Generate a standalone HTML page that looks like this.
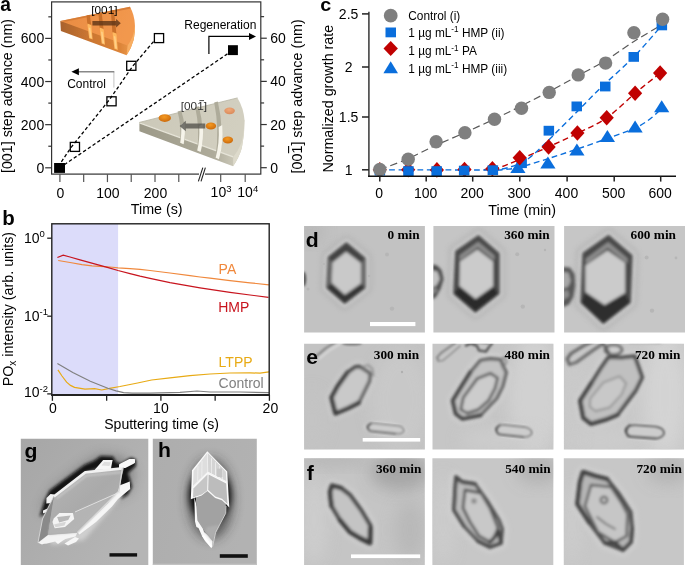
<!DOCTYPE html>
<html><head><meta charset="utf-8"><title>Figure</title>
<style>
html,body{margin:0;padding:0;background:#fff;}
body{width:685px;height:565px;overflow:hidden;font-family:"Liberation Sans", sans-serif;}
</style></head><body>
<svg width="685" height="565" viewBox="0 0 685 565" style="display:block">
<rect width="685" height="565" fill="#fff"/>
<g opacity="0.999">
<g id="pa">
<polyline points="58.2,166.5 70.8,147.8 109.6,99.5 132.6,66.3 153.5,41.6" fill="none" stroke="#000" stroke-width="1.3" stroke-dasharray="3.4 2.3"/>
<line x1="59.6" y1="167.9" x2="232.9" y2="50.2" stroke="#000" stroke-width="1.3" stroke-dasharray="3.4 2.3"/>
<rect x="51.6" y="1.9" width="209.20000000000002" height="172.2" fill="none" stroke="#333" stroke-width="1.2"/>
<line x1="45.2" y1="167.8" x2="51.6" y2="167.8" stroke="#333" stroke-width="1.2" />
<text x="44.2" y="172.9" font-size="14" text-anchor="end" font-weight="normal" fill="#000" font-family='"Liberation Sans", sans-serif' >0</text>
<line x1="45.2" y1="124.66600000000001" x2="51.6" y2="124.66600000000001" stroke="#333" stroke-width="1.2" />
<text x="44.2" y="129.76600000000002" font-size="14" text-anchor="end" font-weight="normal" fill="#000" font-family='"Liberation Sans", sans-serif' >200</text>
<line x1="45.2" y1="81.53200000000001" x2="51.6" y2="81.53200000000001" stroke="#333" stroke-width="1.2" />
<text x="44.2" y="86.632" font-size="14" text-anchor="end" font-weight="normal" fill="#000" font-family='"Liberation Sans", sans-serif' >400</text>
<line x1="45.2" y1="38.398000000000025" x2="51.6" y2="38.398000000000025" stroke="#333" stroke-width="1.2" />
<text x="44.2" y="43.498000000000026" font-size="14" text-anchor="end" font-weight="normal" fill="#000" font-family='"Liberation Sans", sans-serif' >600</text>
<line x1="48.300000000000004" y1="146.233" x2="51.6" y2="146.233" stroke="#333" stroke-width="1.2" />
<line x1="48.300000000000004" y1="103.09900000000002" x2="51.6" y2="103.09900000000002" stroke="#333" stroke-width="1.2" />
<line x1="48.300000000000004" y1="59.96500000000002" x2="51.6" y2="59.96500000000002" stroke="#333" stroke-width="1.2" />
<line x1="48.300000000000004" y1="16.831000000000017" x2="51.6" y2="16.831000000000017" stroke="#333" stroke-width="1.2" />
<line x1="260.8" y1="167.7" x2="266.8" y2="167.7" stroke="#333" stroke-width="1.2" />
<text x="270.3" y="172.79999999999998" font-size="14" text-anchor="start" font-weight="normal" fill="#000" font-family='"Liberation Sans", sans-serif' >0</text>
<line x1="260.8" y1="124.53999999999999" x2="266.8" y2="124.53999999999999" stroke="#333" stroke-width="1.2" />
<text x="270.3" y="129.64" font-size="14" text-anchor="start" font-weight="normal" fill="#000" font-family='"Liberation Sans", sans-serif' >20</text>
<line x1="260.8" y1="81.38" x2="266.8" y2="81.38" stroke="#333" stroke-width="1.2" />
<text x="270.3" y="86.47999999999999" font-size="14" text-anchor="start" font-weight="normal" fill="#000" font-family='"Liberation Sans", sans-serif' >40</text>
<line x1="260.8" y1="38.22" x2="266.8" y2="38.22" stroke="#333" stroke-width="1.2" />
<text x="270.3" y="43.32" font-size="14" text-anchor="start" font-weight="normal" fill="#000" font-family='"Liberation Sans", sans-serif' >60</text>
<line x1="260.8" y1="146.12" x2="264.1" y2="146.12" stroke="#333" stroke-width="1.2" />
<line x1="260.8" y1="102.96" x2="264.1" y2="102.96" stroke="#333" stroke-width="1.2" />
<line x1="260.8" y1="59.8" x2="264.1" y2="59.8" stroke="#333" stroke-width="1.2" />
<line x1="260.8" y1="16.639999999999986" x2="264.1" y2="16.639999999999986" stroke="#333" stroke-width="1.2" />
<line x1="59.9" y1="174.1" x2="59.9" y2="182.1" stroke="#555" stroke-width="1.2" />
<text x="60.4" y="197.8" font-size="14" text-anchor="middle" font-weight="normal" fill="#000" font-family='"Liberation Sans", sans-serif' >0</text>
<line x1="107.44999999999999" y1="174.1" x2="107.44999999999999" y2="182.1" stroke="#555" stroke-width="1.2" />
<text x="107.94999999999999" y="197.8" font-size="14" text-anchor="middle" font-weight="normal" fill="#000" font-family='"Liberation Sans", sans-serif' >100</text>
<line x1="155.0" y1="174.1" x2="155.0" y2="182.1" stroke="#555" stroke-width="1.2" />
<text x="155.5" y="197.8" font-size="14" text-anchor="middle" font-weight="normal" fill="#000" font-family='"Liberation Sans", sans-serif' >200</text>
<line x1="83.675" y1="174.1" x2="83.675" y2="182.1" stroke="#555" stroke-width="1.2" />
<line x1="131.225" y1="174.1" x2="131.225" y2="182.1" stroke="#555" stroke-width="1.2" />
<line x1="178.775" y1="174.1" x2="178.775" y2="182.1" stroke="#555" stroke-width="1.2" />
<line x1="220.7" y1="174.1" x2="220.7" y2="182.1" stroke="#555" stroke-width="1.2" />
<line x1="245.2" y1="174.1" x2="245.2" y2="182.1" stroke="#555" stroke-width="1.2" />
<rect x="199" y="172" width="6" height="4" fill="#fff"/>
<line x1="198.4" y1="181.4" x2="202.8" y2="167.6" stroke="#222" stroke-width="1.1" />
<line x1="201.0" y1="181.4" x2="205.4" y2="167.6" stroke="#222" stroke-width="1.1" />
<text x="210.6" y="197.4" font-size="14" text-anchor="start" font-weight="normal" fill="#000" font-family='"Liberation Sans", sans-serif' >10<tspan font-size="9.5" dy="-5.2">3</tspan></text>
<text x="237.3" y="197.4" font-size="14" text-anchor="start" font-weight="normal" fill="#000" font-family='"Liberation Sans", sans-serif' >10<tspan font-size="9.5" dy="-5.2">4</tspan></text>
<text x="156.7" y="213.9" font-size="14.3" text-anchor="middle" font-weight="normal" fill="#000" font-family='"Liberation Sans", sans-serif' >Time (s)</text>
<text transform="translate(12.3,96) rotate(-90)" font-size="14.3" text-anchor="middle" font-family='"Liberation Sans", sans-serif'>[001] step advance (nm)</text>
<text transform="translate(302.2,173.4) rotate(-90)" font-size="14.3" text-anchor="start" font-family='"Liberation Sans", sans-serif'>[001] step advance (nm)</text>
<line x1="288.6" y1="145.9" x2="288.6" y2="153.2" stroke="#000" stroke-width="1.1" />
<rect x="70.30000000000001" y="142.4" width="9.2" height="9.0" fill="none" stroke="#000" stroke-width="1.3"/>
<rect x="106.9" y="96.8" width="9.2" height="9.0" fill="none" stroke="#000" stroke-width="1.3"/>
<rect x="126.70000000000002" y="61.3" width="9.2" height="9.0" fill="none" stroke="#000" stroke-width="1.3"/>
<rect x="154.4" y="33.6" width="9.2" height="9.0" fill="none" stroke="#000" stroke-width="1.3"/>
<rect x="54.1" y="163" width="10.9" height="9.9" fill="#000"/>
<rect x="228" y="45.2" width="9.9" height="9.9" fill="#000"/>
<line x1="113.9" y1="87.6" x2="113.9" y2="71.8" stroke="#bbb" stroke-width="0.9"/>
<line x1="114.3" y1="71.8" x2="78" y2="71.8" stroke="#888" stroke-width="1.4"/>
<polygon points="71.4,71.8 78.9,68.3 78.9,75.3" fill="#000"/>
<text x="67.2" y="87.9" font-size="12" text-anchor="start" font-weight="normal" fill="#000" font-family='"Liberation Sans", sans-serif' >Control</text>
<polyline points="208.9,54 208.9,36.4 250,36.4" fill="none" stroke="#000" stroke-width="1.2"/>
<polygon points="256,36.4 249,32.9 249,39.9" fill="#000"/>
<text x="184.3" y="29.3" font-size="12" text-anchor="start" font-weight="normal" fill="#000" font-family='"Liberation Sans", sans-serif' >Regeneration</text>
<defs>
<linearGradient id="og1" x1="0" y1="0" x2="1" y2="0.25"><stop offset="0" stop-color="#e88a40"/><stop offset="0.5" stop-color="#ee9248"/><stop offset="1" stop-color="#f2984e"/></linearGradient>
<linearGradient id="og2" x1="0" y1="0" x2="1" y2="0"><stop offset="0" stop-color="#a8622e"/><stop offset="0.35" stop-color="#c87430"/><stop offset="0.8" stop-color="#dc8438"/><stop offset="1" stop-color="#f0a052"/></linearGradient>
<linearGradient id="gg1" x1="0" y1="0" x2="1" y2="0.2"><stop offset="0" stop-color="#cbc8b8"/><stop offset="1" stop-color="#d2cfc0"/></linearGradient>
<linearGradient id="gg2" x1="0" y1="0" x2="1" y2="0"><stop offset="0" stop-color="#9c9988"/><stop offset="0.7" stop-color="#aeab9a"/><stop offset="1" stop-color="#d8d5c6"/></linearGradient>
<radialGradient id="blob" cx="0.45" cy="0.35" r="0.7"><stop offset="0" stop-color="#f59a22"/><stop offset="1" stop-color="#c8660a"/></radialGradient>
<radialGradient id="blob2" cx="0.45" cy="0.35" r="0.7"><stop offset="0" stop-color="#f0a878"/><stop offset="1" stop-color="#d88858"/></radialGradient>
<filter id="bw" x="-10%" y="-10%" width="120%" height="120%"><feGaussianBlur stdDeviation="0.45"/></filter>
</defs>
<g filter="url(#bw)">
<path d="M60.3,21 L60.9,30.9 L126.6,55.2 Q131.5,48 133.8,39.4 Q135.2,32 134.9,25 L129,30 Z" fill="url(#og2)"/>
<path d="M60.3,21 L129.9,6.8 Q134.6,15 134.9,25 Q134.4,31.5 132.6,36.5 Q130.4,41.8 127.6,45.4 Z" fill="url(#og1)"/>
<path d="M60.3,21 L129.9,6.8 L130.8,8.6 L66,21.6 Z" fill="#cf7630" opacity="0.75"/>
<path d="M86.6,15.399999999999999 L89.8,14.7 L91.32968749999999,26.0 L87.32968749999999,24.5 Z" fill="#c96f2a"/>
<path d="M87.32968749999999,23.5 L91.32968749999999,25.0 L92.6,39.400000000000006 L89.19999999999999,38.2 Z" fill="#ffb960"/>
<path d="M88.7296875,27.5 L90.32968749999999,28.0 L91.8,38.2 L90.0,37.6 Z" fill="#ffd088"/>
<path d="M98.4,12.8 L101.60000000000001,12.1 L103.63154761904762,30.0 L99.63154761904762,28.5 Z" fill="#c96f2a"/>
<path d="M99.63154761904762,27.5 L103.63154761904762,29.0 L105.0,44.800000000000004 L101.6,43.6 Z" fill="#ffb960"/>
<path d="M101.03154761904763,31.5 L102.63154761904762,32.0 L104.2,43.6 L102.4,43.0 Z" fill="#ffd088"/>
<path d="M110.8,10.6 L114.0,9.9 L116.44390243902438,34.5 L112.44390243902438,33.0 Z" fill="#c96f2a"/>
<path d="M112.44390243902438,32.0 L116.44390243902438,33.5 L117.8,50.0 L114.39999999999999,48.8 Z" fill="#ffb960"/>
<path d="M113.84390243902439,36.0 L115.44390243902438,36.5 L117.0,48.8 L115.2,48.199999999999996 Z" fill="#ffd088"/>
<path d="M134.9,25 Q134.4,31.5 132.6,36.5 Q130.4,41.8 127.6,45.4 L126.6,55.2 Q131.5,48 133.8,39.4 Q135.2,32 134.9,25 Z" fill="#f8ae62"/>
</g>
<path d="M92.4,21 L116.1,21 L116.1,19 L120.8,23.3 L116.1,27.6 L116.1,25.6 L92.4,25.6 Z" fill="#5e3516" opacity="0.8"/>
<text x="104.4" y="13.6" font-size="11.8" text-anchor="middle" font-weight="normal" fill="#000" font-family='"Liberation Sans", sans-serif' >[001]</text>
<g filter="url(#bw)">
<path d="M139.4,122.4 L139.4,131.2 L233.1,166.2 Q239.5,157 241.9,147.8 Q244.8,134 244.5,119.8 L238,126 Z" fill="url(#gg2)"/>
<path d="M139.4,122.4 L237.5,97.9 Q243.6,108 244.5,119.8 Q244.3,133 241.4,143 Q237.8,151.5 233.2,156.8 Z" fill="url(#gg1)"/>
<path d="M139.4,122.8 L233.2,156.8" stroke="#e6e4d8" stroke-width="1.4" fill="none"/>
<path d="M139.4,122.4 L237.5,97.9" stroke="#b4b1a0" stroke-width="1" fill="none" opacity="0.8"/>
<path d="M177.6,111.6 Q181.8,127.2 180.0,142.8 L184.2,144.4 Q186.6,127.2 181.2,110.6 Z" fill="#aeab9a"/>
<path d="M181.26000000000002,124.2 Q181.60000000000002,135.0 180.2,142.8 L183.6,144.20000000000002 Q185.6,135.0 184.76,122.2 Z" fill="#f6f4ea"/>
<path d="M195.2,107.2 Q200.1,128.9 197.0,150.6 L201.2,152.2 Q204.89999999999998,128.9 198.79999999999998,106.2 Z" fill="#aeab9a"/>
<path d="M199.28,125.9 Q199.9,139.75 197.2,150.6 L200.6,152.0 Q203.89999999999998,139.75 202.77999999999997,123.9 Z" fill="#f6f4ea"/>
<path d="M214.2,102.4 Q219.8,130.10000000000002 215.4,157.8 L219.6,159.4 Q224.6,130.10000000000002 217.79999999999998,101.4 Z" fill="#aeab9a"/>
<path d="M218.70000000000002,127.10000000000002 Q219.60000000000002,143.95000000000002 215.6,157.8 L219.0,159.20000000000002 Q223.6,143.95000000000002 222.2,125.10000000000002 Z" fill="#f6f4ea"/>
<path d="M244.5,119.8 Q244.3,133 241.4,143 Q237.8,151.5 233.2,156.8 L233.1,166.2 Q239.5,157 241.9,147.8 Q244.8,134 244.5,119.8 Z" fill="#dddacb"/>
<ellipse cx="164.8" cy="118.1" rx="6.2" ry="3.9" fill="url(#blob)"/>
<ellipse cx="210.9" cy="126" rx="5.3" ry="3.5" fill="url(#blob)"/>
<ellipse cx="229.6" cy="110.8" rx="5.3" ry="3.4" fill="url(#blob2)"/>
<ellipse cx="227.9" cy="140" rx="5.2" ry="3.4" fill="url(#blob)"/>
</g>
<path d="M205.2,123.4 L185.8,123.4 L185.8,120.8 L179.6,126 L185.8,131.2 L185.8,128.6 L205.2,128.6 Z" fill="#55544e" opacity="0.8"/>
<text x="193.9" y="109.5" font-size="11.8" text-anchor="middle" font-weight="normal" fill="#333" font-family='"Liberation Sans", sans-serif' >[001]</text>
<line x1="199.4" y1="100.6" x2="204" y2="100.6" stroke="#333" stroke-width="0.9" />
</g>
<g id="pc">
<path d="M497.0,170.1 C498.3,170.0 501.2,169.9 505.0,169.4 C508.8,168.9 512.2,169.1 519.5,167.3 C526.8,165.5 538.9,161.6 548.6,158.5 C558.3,155.4 568.0,152.1 577.8,148.8 C587.6,145.5 597.8,142.0 607.4,138.5 C617.0,135.0 628.0,131.2 635.1,128.0 C642.2,124.8 645.6,122.2 650.0,119.0 C654.4,115.8 659.8,110.2 661.7,108.5" fill="none" stroke="#0a6edc" stroke-width="1.4" stroke-dasharray="5.8 3.6"/>
<path d="M484.0,169.7 C485.3,169.5 489.3,169.0 492.0,168.6 C494.7,168.2 495.4,168.8 500.0,167.3 C504.6,165.8 511.4,162.9 519.5,159.5 C527.6,156.1 538.9,151.2 548.6,146.8 C558.3,142.4 568.1,138.0 577.8,133.2 C587.5,128.4 597.2,124.4 606.7,117.8 C616.2,111.2 626.2,100.8 635.1,93.3 C644.0,85.8 655.9,76.5 660.1,73.1" fill="none" stroke="#c00000" stroke-width="1.4" stroke-dasharray="5.8 3.6"/>
<path d="M379.8,169.9 C389.8,169.9 421.3,169.9 440.0,169.9 C458.7,169.9 481.7,170.1 492.0,169.9 C502.3,169.8 498.8,169.5 502.0,169.0 C505.2,168.5 508.1,167.7 511.0,166.8 C513.9,165.9 516.5,165.0 519.5,163.5 C522.5,162.0 525.8,160.5 529.2,158.0 C532.6,155.5 535.5,152.8 540.0,148.5 C544.5,144.2 550.1,138.6 556.4,132.3 C562.7,126.0 570.5,118.2 577.8,110.9 C585.1,103.6 590.7,97.5 600.0,88.5 C609.3,79.5 623.4,67.4 633.7,56.9 C644.0,46.4 657.2,30.6 661.9,25.4" fill="none" stroke="#0a6edc" stroke-width="1.4" stroke-dasharray="5.8 3.6"/>
<path d="M379.8,169.6 C384.5,167.8 398.8,162.7 408.2,158.6 C417.6,154.5 426.7,149.5 436.1,145.2 C445.6,140.9 455.2,137.0 464.9,132.6 C474.6,128.2 485.1,123.5 494.5,119.0 C503.9,114.5 512.3,110.4 521.4,105.8 C530.5,101.2 539.7,96.5 549.2,91.5 C558.7,86.5 568.8,80.8 578.2,75.6 C587.6,70.4 596.3,66.2 605.6,60.5 C614.9,54.8 624.8,47.3 633.9,41.5 C643.0,35.7 656.1,28.2 660.5,25.5" fill="none" stroke="#595959" stroke-width="1.2" stroke-dasharray="7.3 4"/>
<rect x="516.4" y="158.3" width="10.5" height="9.8" fill="#0a6edc"/>
<polygon points="517.9,160.9 525.5,172.9 510.3,172.9" fill="#0a6edc"/>
<polygon points="547.9,156.5 555.5,168.5 540.3,168.5" fill="#0a6edc"/>
<polygon points="576.9,143.5 584.5,155.5 569.3,155.5" fill="#0a6edc"/>
<polygon points="607.4,130.1 615.0,142.1 599.8,142.1" fill="#0a6edc"/>
<polygon points="635.1,120.4 642.7,132.4 627.5,132.4" fill="#0a6edc"/>
<polygon points="661.7,100.3 669.3,112.3 654.1,112.3" fill="#0a6edc"/>
<polygon points="379.8,162.0 386.9,169.8 379.8,177.6 372.7,169.8" fill="#c00000"/>
<polygon points="408.2,161.9 415.3,169.7 408.2,177.5 401.1,169.7" fill="#c00000"/>
<polygon points="436.9,162.1 444.0,169.9 436.9,177.7 429.8,169.9" fill="#c00000"/>
<polygon points="464.5,161.7 471.6,169.5 464.5,177.3 457.4,169.5" fill="#c00000"/>
<polygon points="492.4,161.0 499.5,168.8 492.4,176.6 485.3,168.8" fill="#c00000"/>
<polygon points="519.7,149.9 526.8,157.7 519.7,165.5 512.6,157.7" fill="#c00000"/>
<polygon points="548.6,139.1 555.7,146.9 548.6,154.7 541.5,146.9" fill="#c00000"/>
<polygon points="577.4,125.2 584.5,133.0 577.4,140.8 570.3,133.0" fill="#c00000"/>
<polygon points="606.7,110.0 613.8,117.8 606.7,125.6 599.6,117.8" fill="#c00000"/>
<polygon points="635.1,85.5 642.2,93.3 635.1,101.1 628.0,93.3" fill="#c00000"/>
<polygon points="660.1,65.3 667.2,73.1 660.1,80.9 653.0,73.1" fill="#c00000"/>
<rect x="374.6" y="165.7" width="10.5" height="9.8" fill="#0a6edc"/>
<rect x="403.2" y="166.2" width="10.5" height="9.8" fill="#0a6edc"/>
<rect x="431.4" y="166.2" width="10.5" height="9.8" fill="#0a6edc"/>
<rect x="458.9" y="165.7" width="10.5" height="9.8" fill="#0a6edc"/>
<rect x="487.6" y="165.3" width="10.5" height="9.8" fill="#0a6edc"/>
<rect x="543.6" y="125.8" width="10.5" height="9.8" fill="#0a6edc"/>
<rect x="571.5" y="101.5" width="10.5" height="9.8" fill="#0a6edc"/>
<rect x="600.0" y="81.6" width="10.5" height="9.8" fill="#0a6edc"/>
<rect x="628.5" y="52.0" width="10.5" height="9.8" fill="#0a6edc"/>
<rect x="656.6" y="20.5" width="10.5" height="9.8" fill="#0a6edc"/>
<circle cx="379.8" cy="169.4" r="6.7" fill="#7f7f7f"/>
<circle cx="408.2" cy="159.3" r="6.7" fill="#7f7f7f"/>
<circle cx="436.1" cy="141.8" r="6.7" fill="#7f7f7f"/>
<circle cx="464.9" cy="132.8" r="6.7" fill="#7f7f7f"/>
<circle cx="494.5" cy="119.3" r="6.7" fill="#7f7f7f"/>
<circle cx="521.5" cy="108.3" r="6.7" fill="#7f7f7f"/>
<circle cx="549.2" cy="92.4" r="6.7" fill="#7f7f7f"/>
<circle cx="578.2" cy="74.9" r="6.7" fill="#7f7f7f"/>
<circle cx="605.6" cy="63.1" r="6.7" fill="#7f7f7f"/>
<circle cx="633.9" cy="32.8" r="6.7" fill="#7f7f7f"/>
<circle cx="662.6" cy="19.3" r="6.7" fill="#7f7f7f"/>
<line x1="368.9" y1="11.7" x2="368.9" y2="177" stroke="#444" stroke-width="1.6"/>
<line x1="368.1" y1="176.3" x2="676" y2="176.3" stroke="#111" stroke-width="1.5"/>
<line x1="362" y1="169.8" x2="368.9" y2="169.8" stroke="#222" stroke-width="1.5" />
<text x="348.6" y="174.70000000000002" font-size="14" text-anchor="middle" font-weight="normal" fill="#000" font-family='"Liberation Sans", sans-serif' >1</text>
<line x1="362" y1="117.0" x2="368.9" y2="117.0" stroke="#222" stroke-width="1.5" />
<text x="348.6" y="121.9" font-size="14" text-anchor="middle" font-weight="normal" fill="#000" font-family='"Liberation Sans", sans-serif' >1.5</text>
<line x1="362" y1="67.0" x2="368.9" y2="67.0" stroke="#222" stroke-width="1.5" />
<text x="348.6" y="71.9" font-size="14" text-anchor="middle" font-weight="normal" fill="#000" font-family='"Liberation Sans", sans-serif' >2</text>
<line x1="362" y1="13.9" x2="368.9" y2="13.9" stroke="#222" stroke-width="1.5" />
<text x="348.6" y="18.8" font-size="14" text-anchor="middle" font-weight="normal" fill="#000" font-family='"Liberation Sans", sans-serif' >2.5</text>
<line x1="379.8" y1="176.3" x2="379.8" y2="181.6" stroke="#222" stroke-width="1.5" />
<text x="379.2" y="197.6" font-size="14" text-anchor="middle" font-weight="normal" fill="#000" font-family='"Liberation Sans", sans-serif' >0</text>
<line x1="426.2" y1="176.3" x2="426.2" y2="181.6" stroke="#222" stroke-width="1.5" />
<text x="425.59999999999997" y="197.6" font-size="14" text-anchor="middle" font-weight="normal" fill="#000" font-family='"Liberation Sans", sans-serif' >100</text>
<line x1="472.7" y1="176.3" x2="472.7" y2="181.6" stroke="#222" stroke-width="1.5" />
<text x="472.09999999999997" y="197.6" font-size="14" text-anchor="middle" font-weight="normal" fill="#000" font-family='"Liberation Sans", sans-serif' >200</text>
<line x1="519.8" y1="176.3" x2="519.8" y2="181.6" stroke="#222" stroke-width="1.5" />
<text x="519.1999999999999" y="197.6" font-size="14" text-anchor="middle" font-weight="normal" fill="#000" font-family='"Liberation Sans", sans-serif' >300</text>
<line x1="567.1" y1="176.3" x2="567.1" y2="181.6" stroke="#222" stroke-width="1.5" />
<text x="566.5" y="197.6" font-size="14" text-anchor="middle" font-weight="normal" fill="#000" font-family='"Liberation Sans", sans-serif' >400</text>
<line x1="614.2" y1="176.3" x2="614.2" y2="181.6" stroke="#222" stroke-width="1.5" />
<text x="613.6" y="197.6" font-size="14" text-anchor="middle" font-weight="normal" fill="#000" font-family='"Liberation Sans", sans-serif' >500</text>
<line x1="660.7" y1="176.3" x2="660.7" y2="181.6" stroke="#222" stroke-width="1.5" />
<text x="660.1" y="197.6" font-size="14" text-anchor="middle" font-weight="normal" fill="#000" font-family='"Liberation Sans", sans-serif' >600</text>
<text x="522.2" y="215.2" font-size="14.3" text-anchor="middle" font-weight="normal" fill="#000" font-family='"Liberation Sans", sans-serif' >Time (min)</text>
<text transform="translate(332.6,172.6) rotate(-90)" font-size="14.3" text-anchor="start" font-family='"Liberation Sans", sans-serif'>Normalized growth rate</text>
<circle cx="390.7" cy="15.7" r="6.9" fill="#7f7f7f"/>
<rect x="385.5" y="27.5" width="10.5" height="9.8" fill="#0a6edc"/>
<polygon points="390.7,40.9 397.9,48.4 390.7,55.9 383.5,48.4" fill="#c00000"/>
<polygon points="390.7,61.2 398,73.2 383.4,73.2" fill="#0a6edc"/>
<text x="408.3" y="19.8" font-size="11.85" text-anchor="start" font-weight="normal" fill="#000" font-family='"Liberation Sans", sans-serif' >Control (i)</text>
<text x="408.3" y="36.9" font-size="11.85" text-anchor="start" font-weight="normal" fill="#000" font-family='"Liberation Sans", sans-serif' >1 µg mL<tspan font-size="8.2" dy="-4.5">-1</tspan><tspan dy="4.5"> </tspan>HMP (ii)</text>
<text x="408.3" y="55.2" font-size="11.85" text-anchor="start" font-weight="normal" fill="#000" font-family='"Liberation Sans", sans-serif' >1 µg mL<tspan font-size="8.2" dy="-4.5">-1</tspan><tspan dy="4.5"> </tspan>PA</text>
<text x="408.3" y="72.7" font-size="11.85" text-anchor="start" font-weight="normal" fill="#000" font-family='"Liberation Sans", sans-serif' >1 µg mL<tspan font-size="8.2" dy="-4.5">-1</tspan><tspan dy="4.5"> </tspan>HMP (iii)</text>
</g>
<g id="pb">
<rect x="51.8" y="223.8" width="66.3" height="171.2" fill="#dcdcfa"/>
<polyline points="58.2,260.5 70,262.5 82,264.6 92,265.8 100,266.3 110,267 118,267.8 130,268.6 140,269.3 150,270.5 170,273 190,275.6 200,277 210,278.2 230,280.6 250,282.8 269,284.9" fill="none" stroke="#f0883c" stroke-width="1.2"/>
<polyline points="57.4,257.5 63.2,255.2 70,257 80,259.8 90,262.6 100,265.4 110,268.2 118,270.5 130,273.6 140,276.2 150,278.4 170,282.6 190,286.2 200,287.8 210,289.4 230,292.4 250,295 268.5,297.3" fill="none" stroke="#c8141e" stroke-width="1.2"/>
<polyline points="57.9,369.9 62,376 66.6,382.2 70.5,385.4 74.5,387.4 85,389.2 94.7,388.6 101.7,390 109.6,388.3 120,386.5 137.6,383 151.6,380 170,377.8 190,375.6 210,374 230,373 250,372.8 260,373.2 269,371.9" fill="none" stroke="#e8aa14" stroke-width="1.2"/>
<polyline points="57.4,363.4 72.8,372.5 90.3,381.3 107.8,388.3 116,390.8 123.6,392.7 132,393.2 150,393.2 180,392.4 197,391 210,392 240,392 269,392.6" fill="none" stroke="#808080" stroke-width="1.2"/>
<rect x="51.8" y="223.8" width="217.39999999999998" height="171.2" fill="none" stroke="#222" stroke-width="1.4"/>
<line x1="51.099999999999994" y1="395.0" x2="269.9" y2="395.0" stroke="#222" stroke-width="1.9"/>
<line x1="47.199999999999996" y1="238.2" x2="51.8" y2="238.2" stroke="#222" stroke-width="1.3" />
<text x="24.0" y="242.6" font-size="14" text-anchor="start" font-weight="normal" fill="#000" font-family='"Liberation Sans", sans-serif' >10<tspan font-size="9.5" dy="-5.2">0</tspan></text>
<line x1="47.199999999999996" y1="316.2" x2="51.8" y2="316.2" stroke="#222" stroke-width="1.3" />
<text x="24.0" y="320.59999999999997" font-size="14" text-anchor="start" font-weight="normal" fill="#000" font-family='"Liberation Sans", sans-serif' >10<tspan font-size="9.5" dy="-5.2">-1</tspan></text>
<line x1="47.199999999999996" y1="393.9" x2="51.8" y2="393.9" stroke="#222" stroke-width="1.3" />
<text x="24.0" y="397.09999999999997" font-size="14" text-anchor="start" font-weight="normal" fill="#000" font-family='"Liberation Sans", sans-serif' >10<tspan font-size="9.5" dy="-5.2">-2</tspan></text>
<line x1="52.4" y1="395.0" x2="52.4" y2="400.8" stroke="#222" stroke-width="1.3" />
<line x1="106.65" y1="395.0" x2="106.65" y2="400.8" stroke="#222" stroke-width="1.3" />
<line x1="160.9" y1="395.0" x2="160.9" y2="400.8" stroke="#222" stroke-width="1.3" />
<line x1="215.15" y1="395.0" x2="215.15" y2="400.8" stroke="#222" stroke-width="1.3" />
<line x1="269.4" y1="395.0" x2="269.4" y2="400.8" stroke="#222" stroke-width="1.3" />
<text x="52.8" y="413.0" font-size="14" text-anchor="middle" font-weight="normal" fill="#000" font-family='"Liberation Sans", sans-serif' >0</text>
<text x="160.9" y="413.0" font-size="14" text-anchor="middle" font-weight="normal" fill="#000" font-family='"Liberation Sans", sans-serif' >10</text>
<text x="270.4" y="413.0" font-size="14" text-anchor="middle" font-weight="normal" fill="#000" font-family='"Liberation Sans", sans-serif' >20</text>
<text x="161.6" y="429.2" font-size="14.05" text-anchor="middle" font-weight="normal" fill="#000" font-family='"Liberation Sans", sans-serif' >Sputtering time (s)</text>
<text transform="translate(12.5,386.3) rotate(-90)" font-size="14.3" text-anchor="start" font-family='"Liberation Sans", sans-serif'>PO<tspan font-size="10" dy="3.2">x</tspan><tspan dy="-3.2"> intensity (arb. units)</tspan></text>
<text x="218.6" y="273.7" font-size="14" text-anchor="start" font-weight="normal" fill="#f0883c" font-family='"Liberation Sans", sans-serif' >PA</text>
<text x="218.2" y="312.3" font-size="14" text-anchor="start" font-weight="normal" fill="#c8141e" font-family='"Liberation Sans", sans-serif' >HMP</text>
<text x="218.6" y="366.8" font-size="14" text-anchor="start" font-weight="normal" fill="#e8aa14" font-family='"Liberation Sans", sans-serif' >LTPP</text>
<text x="218.6" y="388.3" font-size="14" text-anchor="start" font-weight="normal" fill="#808080" font-family='"Liberation Sans", sans-serif' >Control</text>
</g>
<defs>
<filter id="b1" x="-20%" y="-20%" width="140%" height="140%"><feGaussianBlur stdDeviation="1.0"/></filter>
<filter id="b12" x="-20%" y="-20%" width="140%" height="140%"><feGaussianBlur stdDeviation="1.35"/></filter>
<filter id="b15" x="-20%" y="-20%" width="140%" height="140%"><feGaussianBlur stdDeviation="1.5"/></filter>
<filter id="b2" x="-30%" y="-30%" width="160%" height="160%"><feGaussianBlur stdDeviation="2.2"/></filter>
<filter id="b4" x="-50%" y="-50%" width="200%" height="200%"><feGaussianBlur stdDeviation="4"/></filter>
<filter id="b8" x="-50%" y="-50%" width="200%" height="200%"><feGaussianBlur stdDeviation="8"/></filter>
<filter id="b07" x="-20%" y="-20%" width="140%" height="140%"><feGaussianBlur stdDeviation="0.6"/></filter>
</defs>
<clipPath id="cl00"><rect x="304.1" y="226.1" width="120.79999999999995" height="106.50000000000003"/></clipPath>
<clipPath id="cl01"><rect x="433.4" y="226.1" width="121.10000000000002" height="106.50000000000003"/></clipPath>
<clipPath id="cl02"><rect x="564.1" y="226.1" width="120.89999999999998" height="106.50000000000003"/></clipPath>
<clipPath id="cl10"><rect x="304.1" y="343.7" width="120.79999999999995" height="105.90000000000003"/></clipPath>
<clipPath id="cl11"><rect x="432.5" y="343.7" width="120.89999999999998" height="105.90000000000003"/></clipPath>
<clipPath id="cl12"><rect x="563.9" y="343.7" width="120.10000000000002" height="105.90000000000003"/></clipPath>
<clipPath id="cl20"><rect x="304.1" y="458.2" width="120.69999999999999" height="106.80000000000001"/></clipPath>
<clipPath id="cl21"><rect x="432.4" y="458.2" width="120.89999999999998" height="106.80000000000001"/></clipPath>
<clipPath id="cl22"><rect x="563.8" y="458.2" width="120.10000000000002" height="106.80000000000001"/></clipPath>
<g clip-path="url(#cl00)">
<rect x="303.1" y="225.1" width="122.79999999999995" height="108.50000000000003" fill="#c2c2c2"/>
<ellipse cx="310" cy="232" rx="14" ry="10" fill="#b2b2b2" opacity="0.8" filter="url(#b8)"/>
<polygon points="346.4,243.2 364.8,258.4 364.8,287.6 344.6,303.0 327.0,287.6 328.5,257.4" fill="none" stroke="#acacac" stroke-width="16" stroke-linejoin="round" filter="url(#b2)" opacity="0.4"/>
<polygon points="346.4,243.2 364.8,258.4 364.8,287.6 344.6,303.0 327.0,287.6 328.5,257.4" fill="#cbcbcb" stroke="#cbcbcb" stroke-width="8" stroke-linejoin="round" filter="url(#b15)"/>
<g filter="url(#b12)">
<polygon points="346.4,243.2 364.8,258.4 364.8,287.6 344.6,303.0 327.0,287.6 328.5,257.4" fill="#424242" stroke="#424242" stroke-width="1.6" stroke-linejoin="round"/>
<polygon points="364.8,287.6 344.6,303.0 327.0,287.6 331.7,283.0 344.8,294.8 360.9,283.4" fill="#343434"/>
<polygon points="364.8,258.4 364.8,287.6 360.9,283.4 360.9,263.0" fill="#686868"/>
<polygon points="328.5,257.4 327.0,287.6 331.7,283.0 332.5,262.4" fill="#686868"/>
<polygon points="346.2,251.8 360.9,263.0 360.9,283.4 344.8,294.8 331.7,283.0 332.5,262.4" fill="#c9c9c9"/>
</g>
<ellipse cx="303.4" cy="279" rx="2.8" ry="7.5" fill="#505050" filter="url(#b1)"/>
<circle cx="387" cy="254.6" r="2.0" fill="#b6b6b6" filter="url(#b07)"/>
<circle cx="392" cy="308.6" r="2.2" fill="#b6b6b6" filter="url(#b07)"/>
<circle cx="369" cy="276" r="1.3" fill="#b6b6b6" filter="url(#b07)"/>
<circle cx="308" cy="289" r="1.6" fill="#b6b6b6" filter="url(#b07)"/>
<circle cx="324" cy="264" r="1.0" fill="#b6b6b6" filter="url(#b07)"/>
</g>
<g clip-path="url(#cl01)">
<rect x="432.4" y="225.1" width="123.10000000000002" height="108.50000000000003" fill="#c5c5c5"/>
<polygon points="478.4,235.8 498.8,253.6 498.8,293.4 475.4,311.8 454.0,293.4 456.0,251.4" fill="none" stroke="#acacac" stroke-width="16" stroke-linejoin="round" filter="url(#b2)" opacity="0.4"/>
<polygon points="478.4,235.8 498.8,253.6 498.8,293.4 475.4,311.8 454.0,293.4 456.0,251.4" fill="#cbcbcb" stroke="#cbcbcb" stroke-width="8" stroke-linejoin="round" filter="url(#b15)"/>
<g filter="url(#b12)">
<polygon points="478.4,235.8 498.8,253.6 498.8,293.4 475.4,311.8 454.0,293.4 456.0,251.4" fill="#484848" stroke="#484848" stroke-width="1.6" stroke-linejoin="round"/>
<polygon points="498.8,293.4 475.4,311.8 454.0,293.4 459.4,286.0 475.6,299.0 493.0,286.6" fill="#2c2c2c"/>
<polygon points="498.8,253.6 498.8,293.4 493.0,286.6 493.0,261.6" fill="#4a4a4a"/>
<polygon points="456.0,251.4 454.0,293.4 459.4,286.0 460.0,261.6" fill="#4a4a4a"/>
<polygon points="478.2,241.8 494.6,255.8 494.4,260.4 477.6,247.0 459.6,260.4 459.4,255.6" fill="#8c8c8c"/>
<polygon points="477.4,249.4 493.0,261.6 493.0,286.6 475.6,299.0 459.4,286.0 460.0,261.6" fill="#cbcbcb"/>
</g>
<g filter="url(#b12)"><path d="M432,264.5 L437,265.5 L441.5,270 L443.6,279 L440.5,289 L436,297 L432,299.5 Z" fill="#4c4c4c"/><path d="M432,270.5 L437.5,271.5 L439.8,279 L436.5,285.5 L432,287.5 Z" fill="#c2c2c2"/><path d="M432,289 L436,287.5 L437.5,291 L432,295 Z" fill="#8a8a8a"/></g>
<circle cx="517.2" cy="254.2" r="2.0" fill="#b6b6b6" filter="url(#b07)"/>
<circle cx="522.8" cy="306.6" r="2.2" fill="#b6b6b6" filter="url(#b07)"/>
<circle cx="545" cy="250" r="1.2" fill="#b6b6b6" filter="url(#b07)"/>
</g>
<g clip-path="url(#cl02)">
<rect x="563.1" y="225.1" width="122.89999999999998" height="108.50000000000003" fill="#c6c6c6"/>
<polygon points="608.5,235.6 631.8,255.6 630.0,302.4 603.4,323.2 581.2,302.4 583.2,253.4" fill="none" stroke="#acacac" stroke-width="16" stroke-linejoin="round" filter="url(#b2)" opacity="0.4"/>
<polygon points="608.5,235.6 631.8,255.6 630.0,302.4 603.4,323.2 581.2,302.4 583.2,253.4" fill="#cbcbcb" stroke="#cbcbcb" stroke-width="8" stroke-linejoin="round" filter="url(#b15)"/>
<g filter="url(#b12)">
<polygon points="608.5,235.6 631.8,255.6 630.0,302.4 603.4,323.2 581.2,302.4 583.2,253.4" fill="#484848" stroke="#484848" stroke-width="1.6" stroke-linejoin="round"/>
<polygon points="630.0,302.4 603.4,323.2 581.2,302.4 585.4,292.0 604.6,305.0 625.0,293.0" fill="#2e2e2e"/>
<polygon points="631.8,255.6 630.0,302.4 625.0,293.0 625.0,262.8" fill="#4c4c4c"/>
<polygon points="583.2,253.4 581.2,302.4 585.4,292.0 585.4,265.6" fill="#4c4c4c"/>
<polygon points="608.2,242.0 627.6,258.4 627.4,263.4 607.8,247.8 585.8,264.4 585.8,258.8" fill="#8c8c8c"/>
<polygon points="607.5,250.6 625.0,262.8 625.0,293.0 604.6,305.0 585.4,292.0 585.4,265.6" fill="#cbcbcb"/>
</g>
<g filter="url(#b12)"><path d="M562,267 L570,267.6 L574.6,274 L575.2,286 L573.4,297 L569,304.5 L562,307.5 Z" fill="#565656"/><path d="M562,272 L568.5,272.6 L570.8,281 L568,287 L562,288.5 Z" fill="#a8a8a8"/><path d="M562,291.5 L568,290 L569.4,296 L562,301 Z" fill="#8e8e8e"/></g>
<circle cx="646.6" cy="257.6" r="2.0" fill="#b6b6b6" filter="url(#b07)"/>
<circle cx="652" cy="310.6" r="2.2" fill="#b6b6b6" filter="url(#b07)"/>
<circle cx="676" cy="258" r="1.4" fill="#b6b6b6" filter="url(#b07)"/>
</g>
<g clip-path="url(#cl10)">
<rect x="303.1" y="342.7" width="122.79999999999995" height="107.90000000000003" fill="#c3c3c3"/>
<ellipse cx="400" cy="400" rx="30" ry="50" fill="#c9c9c9" opacity="0.9" filter="url(#b8)"/>
<ellipse cx="312" cy="420" rx="14" ry="30" fill="#c4c4c4" opacity="0.7" filter="url(#b8)"/>
<polygon points="359.5,366.5 370.2,373.5 369.5,381 358.8,402.8 348.5,408 335.5,413.5 331.5,397.5 337.5,386.5 347.5,372.5 355.5,366.8" fill="#cfcfcf" stroke="#cfcfcf" stroke-width="10" stroke-linejoin="round" filter="url(#b2)"/>
<g filter="url(#b12)">
<path d="M359.5,366.5 L370.2,373.5 L369.5,381 L358.8,402.8 L348.5,408 L335.5,413.5 L331.5,397.5 L337.5,386.5 L347.5,372.5 L355.5,366.8 Z" fill="#c9c9c9" stroke="#5e5e5e" stroke-width="3.4" stroke-linejoin="round" stroke-linecap="round" opacity="1"/>
<path d="M347.5,372.5 L337.5,386.5 L331.5,397.5 L335.5,413.5 L348.5,408 L358.8,402.8" fill="none" stroke="#3c3c3c" stroke-width="4.6" stroke-linejoin="round" stroke-linecap="round" opacity="1"/>
<path d="M347.5,372.5 L355.5,366.8 L359.5,366.5" fill="none" stroke="#4a4a4a" stroke-width="3.6" stroke-linejoin="round" stroke-linecap="round" opacity="1"/>
<path d="M363,366.5 L368,365 L372.5,369 L373.5,376" fill="none" stroke="#8a8a8a" stroke-width="1.8" stroke-linejoin="round" stroke-linecap="round" opacity="1"/>
</g>
<g transform="rotate(6 385.3 428.6)">
<ellipse cx="385.3" cy="428.6" rx="21.6" ry="7.0" fill="#d2d2d2" filter="url(#b15)"/>
<g filter="url(#b1)"><rect x="366.7" y="424.6" width="37.2" height="8.0" rx="6.4" ry="4.0" fill="#cdcdcd" stroke="#808080" stroke-width="1.5"/>
<path d="M369.7,432.0 Q365.9,429.1 370.7,425.0" fill="none" stroke="#5a5a5a" stroke-width="1.9" stroke-linecap="round"/>
<path d="M370.7,432.6 L395.90000000000003,432.6" fill="none" stroke="#666" stroke-width="1.7" stroke-linecap="round"/>
</g></g>
<path d="M316,356.5 L326,348 L336,342" fill="none" stroke="#8a8a8a" stroke-width="2.4" stroke-linejoin="round" stroke-linecap="round" opacity="1" filter="url(#b1)"/>
<path d="M319.5,358.5 L330,350 L340,344" fill="none" stroke="#d6d6d6" stroke-width="2.2" stroke-linejoin="round" stroke-linecap="round" opacity="1" filter="url(#b1)"/>
<ellipse cx="352" cy="343.2" rx="10" ry="2.4" fill="#808080" filter="url(#b1)"/>
<circle cx="402" cy="372" r="1.2" fill="#b0b0b0" filter="url(#b07)"/>
<circle cx="380" cy="352" r="1.0" fill="#b0b0b0" filter="url(#b07)"/>
</g>
<g clip-path="url(#cl11)">
<rect x="431.5" y="342.7" width="122.89999999999998" height="107.90000000000003" fill="#c6c6c6"/>
<ellipse cx="535" cy="395" rx="26" ry="60" fill="#d2d2d2" opacity="0.95" filter="url(#b8)"/>
<ellipse cx="500" cy="440" rx="40" ry="12" fill="#cecece" opacity="0.8" filter="url(#b8)"/>
<polygon points="480.5,360.2 490.6,358.6 500.6,359.6 503,366 506.3,372.3 502.7,386.4 496.6,398.5 480.5,415.1 462.3,418.7 455.8,413.7 452.8,400.6 460.3,388.4 470.4,372.3" fill="#d2d2d2" stroke="#d2d2d2" stroke-width="10" stroke-linejoin="round" filter="url(#b2)"/>
<g filter="url(#b12)">
<path d="M480.5,360.2 L490.6,358.6 L500.6,359.6 L503,366 L506.3,372.3 L502.7,386.4 L496.6,398.5 L480.5,415.1 L462.3,418.7 L455.8,413.7 L452.8,400.6 L460.3,388.4 L470.4,372.3 Z" fill="#c3c3c3" stroke="#565656" stroke-width="3.1" stroke-linejoin="round" stroke-linecap="round" opacity="1"/>
<path d="M470.4,372.3 L460.3,388.4 L452.8,400.6 L455.8,413.7 L462.3,418.7 L480.5,415.1" fill="none" stroke="#424242" stroke-width="4.2" stroke-linejoin="round" stroke-linecap="round" opacity="1"/>
<path d="M490.6,373.3 L497.6,378 L495,388.4 L488.5,400.6 L478.4,409.6 L467.3,413.1 L460.8,409.6 L463.3,397.5 L477.4,378.4 Z" fill="#cccccc" stroke="#565656" stroke-width="2.7" stroke-linejoin="round" stroke-linecap="round" opacity="1"/>
<path d="M500.6,359.6 L504.5,357 L506.5,362 L504,367" fill="none" stroke="#7a7a7a" stroke-width="1.6" stroke-linejoin="round" stroke-linecap="round" opacity="1"/>
</g>
<g transform="rotate(6 513.6 431.0)">
<ellipse cx="513.6" cy="431.0" rx="21.2" ry="7.8" fill="#d2d2d2" filter="url(#b15)"/>
<g filter="url(#b1)"><rect x="495.40000000000003" y="426.2" width="36.4" height="9.6" rx="7.68" ry="4.8" fill="#cdcdcd" stroke="#787878" stroke-width="1.7"/>
<path d="M498.40000000000003,435.2 Q494.6,431.5 499.40000000000003,426.59999999999997" fill="none" stroke="#5a5a5a" stroke-width="2.1" stroke-linecap="round"/>
<path d="M499.40000000000003,435.8 L523.8000000000001,435.8" fill="none" stroke="#666" stroke-width="1.9" stroke-linecap="round"/>
</g></g>
<g filter="url(#b1)">
<path d="M466,345.5 L471,343.5 L477,346 L479,350.5 L486,351.5 L489,347 L492,343.5" fill="none" stroke="#606060" stroke-width="2.6" stroke-linejoin="round" stroke-linecap="round" opacity="1"/>
<path d="M470,343 L478,342 L488,343" fill="none" stroke="#707070" stroke-width="2.0" stroke-linejoin="round" stroke-linecap="round" opacity="1"/>
<path d="M438.5,361 L437,357.5 L441,353 L455,343" fill="none" stroke="#8e8e8e" stroke-width="2.6" stroke-linejoin="round" stroke-linecap="round" opacity="1"/>
<path d="M438.5,361 L443,360.5 L452,353 L460,346" fill="none" stroke="#9c9c9c" stroke-width="2.0" stroke-linejoin="round" stroke-linecap="round" opacity="1"/>
</g>
</g>
<g clip-path="url(#cl12)">
<rect x="562.9" y="342.7" width="122.10000000000002" height="107.90000000000003" fill="#c9c9c9"/>
<ellipse cx="665" cy="395" rx="22" ry="60" fill="#d4d4d4" opacity="0.95" filter="url(#b8)"/>
<ellipse cx="600" cy="440" rx="40" ry="10" fill="#cdcdcd" opacity="0.8" filter="url(#b8)"/>
<ellipse cx="575" cy="400" rx="10" ry="40" fill="#cacaca" opacity="0.8" filter="url(#b8)"/>
<polygon points="608.5,357.2 621.6,357.6 634.7,356.1 642.2,377.3 635.7,390.5 617.6,414.7 605.5,419.7 590.9,423.8 583.3,417.7 580.2,400.6 591.3,383.4 601.4,367.3" fill="#d2d2d2" stroke="#d2d2d2" stroke-width="10" stroke-linejoin="round" filter="url(#b2)"/>
<g filter="url(#b12)">
<path d="M608.5,357.2 L621.6,357.6 L634.7,356.1 L642.2,377.3 L635.7,390.5 L617.6,414.7 L605.5,419.7 L590.9,423.8 L583.3,417.7 L580.2,400.6 L591.3,383.4 L601.4,367.3 Z" fill="#c0c0c0" stroke="#494949" stroke-width="3.8" stroke-linejoin="round" stroke-linecap="round" opacity="1"/>
<path d="M591.3,383.4 L580.2,400.6 L583.3,417.7 L590.9,423.8 L605.5,419.7 L617.6,414.7" fill="none" stroke="#424242" stroke-width="4.4" stroke-linejoin="round" stroke-linecap="round" opacity="1"/>
<path d="M619.6,376.3 L626.1,383.4 L621.6,394.5 L609.5,407.6 L595.4,411.1 L589.7,406.6 L590.3,398.5 L603.4,382.4 Z" fill="#c8c8c8" stroke="#8a8a8a" stroke-width="1.6" stroke-linejoin="round" stroke-linecap="round" opacity="1"/>
<ellipse cx="613.5" cy="349.8" rx="8.4" ry="4.8" fill="#d0d0d0" stroke="#565656" stroke-width="2.6"/>
<path d="M569.5,364.5 L567,359 L571,353.5 L584,345.5 L596,340" fill="none" stroke="#5e5e5e" stroke-width="3.0" stroke-linejoin="round" stroke-linecap="round" opacity="1"/>
<path d="M569.5,364.5 L576,362.5 L592,351 L603,343.5" fill="none" stroke="#646464" stroke-width="2.8" stroke-linejoin="round" stroke-linecap="round" opacity="1"/>
<path d="M603,343.5 L606,348 L609,352" fill="none" stroke="#5a5a5a" stroke-width="2.4" stroke-linejoin="round" stroke-linecap="round" opacity="1"/>
<path d="M630,341.5 L645,341 L660,342" fill="none" stroke="#8a8a8a" stroke-width="2.4" stroke-linejoin="round" stroke-linecap="round" opacity="1"/>
</g>
<g transform="rotate(4 644.6 431.8)">
<ellipse cx="644.6" cy="431.8" rx="22.4" ry="8.8" fill="#d2d2d2" filter="url(#b15)"/>
<g filter="url(#b1)"><rect x="625.2" y="426.0" width="38.8" height="11.6" rx="9.28" ry="5.8" fill="#cdcdcd" stroke="#626262" stroke-width="2.1"/>
<path d="M628.2,437.0 Q624.4000000000001,432.3 629.2,426.4" fill="none" stroke="#5a5a5a" stroke-width="2.5" stroke-linecap="round"/>
<path d="M629.2,437.6 L656.0,437.6" fill="none" stroke="#666" stroke-width="2.3000000000000003" stroke-linecap="round"/>
</g></g>
</g>
<g clip-path="url(#cl20)">
<rect x="303.1" y="457.2" width="122.69999999999999" height="108.80000000000001" fill="#c5c5c5"/>
<ellipse cx="400" cy="472" rx="30" ry="18" fill="#a4a4a4" opacity="0.95" filter="url(#b8)"/>
<ellipse cx="335" cy="458" rx="40" ry="8" fill="#b2b2b2" opacity="0.8" filter="url(#b8)"/>
<ellipse cx="410" cy="530" rx="16" ry="30" fill="#b4b4b4" opacity="0.7" filter="url(#b8)"/>
<ellipse cx="314" cy="520" rx="14" ry="44" fill="#cecece" opacity="0.9" filter="url(#b8)"/>
<polygon points="332,485.6 341,488 350,495 361,510 370.4,525.6 370,543 360,538 350,532 340,520 331.6,506 330,492" fill="#cfcfcf" stroke="#cfcfcf" stroke-width="12" stroke-linejoin="round" filter="url(#b2)"/>
<g filter="url(#b12)">
<path d="M332,485.6 L341,488 L350,495 L361,510 L370.4,525.6 L370,543 L360,538 L350,532 L340,520 L331.6,506 L330,492 Z" fill="#c4c4c4" stroke="#4a4a4a" stroke-width="4.2" stroke-linejoin="round" stroke-linecap="round" opacity="1"/>
<path d="M370.2,528 L370,543 L360,538 L350,532 L340,520" fill="none" stroke="#3a3a3a" stroke-width="4.8" stroke-linejoin="round" stroke-linecap="round" opacity="1"/>
<path d="M331.6,506 L330,492 L332,485.6 L341,488" fill="none" stroke="#404040" stroke-width="4.6" stroke-linejoin="round" stroke-linecap="round" opacity="1"/>
</g>
</g>
<g clip-path="url(#cl21)">
<rect x="431.4" y="457.2" width="122.89999999999998" height="108.80000000000001" fill="#c7c7c7"/>
<ellipse cx="538" cy="470" rx="22" ry="14" fill="#b0b0b0" opacity="0.9" filter="url(#b8)"/>
<ellipse cx="443" cy="520" rx="12" ry="44" fill="#cccccc" opacity="0.9" filter="url(#b8)"/>
<polygon points="456,477 462,482 475,484 488,502 499,520 502.4,529 501,543 490,547 478,541 464,526 454,510 455,492" fill="#d0d0d0" stroke="#d0d0d0" stroke-width="12" stroke-linejoin="round" filter="url(#b2)"/>
<g filter="url(#b12)">
<path d="M456,477 L462,482 L475,484 L488,502 L499,520 L502.4,529 L501,543 L490,547 L478,541 L464,526 L454,510 L455,492 Z" fill="#bcbcbc" stroke="#505050" stroke-width="3.3" stroke-linejoin="round" stroke-linecap="round" opacity="1"/>
<path d="M475,484 L462,482 L456,477 L455,492 L454,510 L464,526" fill="none" stroke="#484848" stroke-width="3.8" stroke-linejoin="round" stroke-linecap="round" opacity="1"/>
<path d="M465,490 L481,493 L490,508 L498,528 L494,538 L490,542 L479,536 L470,522 L463,508 Z" fill="#c8c8c8" stroke="#565656" stroke-width="2.8" stroke-linejoin="round" stroke-linecap="round" opacity="1"/>
<path d="M490,542 L494,538 L498.5,531 L501,543 L490,547 L478,541" fill="none" stroke="#444444" stroke-width="3.8" stroke-linejoin="round" stroke-linecap="round" opacity="1"/>
<circle cx="474" cy="501" r="2.7" fill="#8a8a8a"/>
</g>
</g>
<g clip-path="url(#cl22)">
<rect x="562.8" y="457.2" width="122.10000000000002" height="108.80000000000001" fill="#c7c7c7"/>
<ellipse cx="668" cy="470" rx="22" ry="14" fill="#b2b2b2" opacity="0.9" filter="url(#b8)"/>
<ellipse cx="572" cy="525" rx="10" ry="40" fill="#cccccc" opacity="0.9" filter="url(#b8)"/>
<polygon points="583,472 595,476 607,479 619,494 630.6,512 632,528 631,542 623,550 605,543 589,522 577.4,504 580,482" fill="#d0d0d0" stroke="#d0d0d0" stroke-width="12" stroke-linejoin="round" filter="url(#b2)"/>
<g filter="url(#b12)">
<path d="M583,472 L595,476 L607,479 L619,494 L630.6,512 L632,528 L631,542 L623,550 L605,543 L589,522 L577.4,504 L580,482 Z" fill="#b6b6b6" stroke="#4c4c4c" stroke-width="3.8" stroke-linejoin="round" stroke-linecap="round" opacity="1"/>
<path d="M607,479 L595,476 L583,472 L580,482 L577.4,504 L589,522" fill="none" stroke="#424242" stroke-width="4.6" stroke-linejoin="round" stroke-linecap="round" opacity="1"/>
<path d="M591,485 L611,487 L621,502 L627.4,514 L626.6,536 L615,542.4 L598,532 L585,506 Z" fill="#c6c6c6" stroke="#5c5c5c" stroke-width="2.5" stroke-linejoin="round" stroke-linecap="round" opacity="1"/>
<path d="M605,543 L615,542.4 L623,550 L631,542 L632,528" fill="none" stroke="#444444" stroke-width="3.8" stroke-linejoin="round" stroke-linecap="round" opacity="1"/>
<circle cx="604" cy="500" r="3.4" fill="#bdbdbd" stroke="#4c4c4c" stroke-width="1.8"/>
<path d="M597,517 L606,524 L615,529" fill="none" stroke="#6c6c6c" stroke-width="1.8" stroke-linejoin="round" stroke-linecap="round" opacity="1"/>
</g>
</g>
<rect x="370" y="322" width="45.4" height="4.1" fill="#fff"/>
<rect x="362.7" y="438" width="57.5" height="3.6" fill="#fff"/>
<rect x="351" y="554.4" width="69.2" height="3.7" fill="#fff"/>
<text x="419.6" y="238.6" font-size="13.3" text-anchor="end" font-weight="bold" fill="#000" font-family='"Liberation Serif", serif' >0 min</text>
<text x="549.6" y="238.6" font-size="13.3" text-anchor="end" font-weight="bold" fill="#000" font-family='"Liberation Serif", serif' >360 min</text>
<text x="676" y="238.6" font-size="13.3" text-anchor="end" font-weight="bold" fill="#000" font-family='"Liberation Serif", serif' >600 min</text>
<text x="419.2" y="358.7" font-size="13.3" text-anchor="end" font-weight="bold" fill="#000" font-family='"Liberation Serif", serif' >300 min</text>
<text x="550.0" y="358.7" font-size="13.3" text-anchor="end" font-weight="bold" fill="#000" font-family='"Liberation Serif", serif' >480 min</text>
<text x="680.4" y="358.7" font-size="13.3" text-anchor="end" font-weight="bold" fill="#000" font-family='"Liberation Serif", serif' >720 min</text>
<text x="421.4" y="472.6" font-size="13.3" text-anchor="end" font-weight="bold" fill="#000" font-family='"Liberation Serif", serif' >360 min</text>
<text x="550.6" y="472.6" font-size="13.3" text-anchor="end" font-weight="bold" fill="#000" font-family='"Liberation Serif", serif' >540 min</text>
<text x="681.9" y="472.6" font-size="13.3" text-anchor="end" font-weight="bold" fill="#000" font-family='"Liberation Serif", serif' >720 min</text>
<text opacity="0.99" transform="translate(305.8,246.8) scale(1.06,1)" font-size="20" text-anchor="start" font-weight="bold" fill="#000" font-family='"Liberation Sans", sans-serif' >d</text>
<text opacity="0.99" transform="translate(306.3,364.3) scale(1.06,1)" font-size="20" text-anchor="start" font-weight="bold" fill="#000" font-family='"Liberation Sans", sans-serif' >e</text>
<text opacity="0.99" transform="translate(306.8,480.2) scale(1.06,1)" font-size="20" text-anchor="start" font-weight="bold" fill="#000" font-family='"Liberation Sans", sans-serif' >f</text>
<defs>
<clipPath id="cg"><rect x="20.8" y="438.8" width="127.5" height="126.2"/></clipPath>
<clipPath id="ch"><rect x="152.8" y="438.8" width="104" height="126.2"/></clipPath>
<linearGradient id="semg" x1="0" y1="0" x2="1" y2="0.6"><stop offset="0" stop-color="#a6a6a6"/><stop offset="1" stop-color="#b5b5b5"/></linearGradient>
<linearGradient id="semh" x1="0" y1="0" x2="1" y2="0.3"><stop offset="0" stop-color="#adadad"/><stop offset="1" stop-color="#b2b2b2"/></linearGradient>
<linearGradient id="gface" x1="0" y1="0" x2="1" y2="1"><stop offset="0" stop-color="#b6b6b6"/><stop offset="0.5" stop-color="#aaaaaa"/><stop offset="1" stop-color="#b4b4b4"/></linearGradient>
<filter id="b05" x="-20%" y="-20%" width="140%" height="140%"><feGaussianBlur stdDeviation="0.5"/></filter>
<filter id="b3" x="-50%" y="-50%" width="200%" height="200%"><feGaussianBlur stdDeviation="3"/></filter>
<filter id="b6" x="-50%" y="-50%" width="200%" height="200%"><feGaussianBlur stdDeviation="6"/></filter>
</defs>
<g clip-path="url(#cg)">
<rect x="20" y="438" width="130" height="128" fill="url(#semg)"/>
<polygon points="40,512 52,490 84,464 100,455 124,458 134,470 130,492 110,500 70,505" fill="#5a5a5a" filter="url(#b6)" opacity="0.55"/>
<polygon points="39.5,517 44.5,501 49.5,490.5 84.5,464.8 94.5,460.5 100.5,456 113,456.4 116,462 121,464 131,457.4 136,459.5 136,466 128,473 130.5,481 132,487 127.5,495 121,499 118,470 100,468 86,472 54,497 46,513" fill="#0c0c0c" filter="url(#b15)" opacity="0.95"/>
<polygon points="48,536 78,533 120,491 124,494 84,540 52,545" fill="#d8d8d8" filter="url(#b2)" opacity="0.8"/>
<polygon points="55,541.5 64,536 66.5,538 58,544" fill="#f6f6f6" filter="url(#b05)" />
<polygon points="64.5,543.5 75,537 79,538.5 76,542 68,545.5" fill="#f6f6f6" filter="url(#b05)" />
<polygon points="39,543 50,536 52,540 42,544.5" fill="#f6f6f6" filter="url(#b05)" />
<polygon points="94.6,470 103.2,460 112.6,460 110.8,469.5" fill="#f6f6f6" filter="url(#b05)" />
<polygon points="101.5,465.5 104.2,462 110.8,462.2 109.4,466" fill="#dedede" filter="url(#b05)" />
<line x1="121.5" y1="466.5" x2="132.2" y2="461" stroke="#f8f8f8" stroke-width="6.2" stroke-linecap="round" filter="url(#b05)"/>
<polygon points="119.4,485.5 129.8,481.6 130.2,489 118,499 112,506.5 96,522 79.5,534.5 77.5,532.5 108,503" fill="#f6f6f6" filter="url(#b05)" />
<polygon points="46.5,498 50.5,494 54.5,494.6 51.5,503 46.3,503.5" fill="#f2f2f2" filter="url(#b05)" />
<polygon points="43,510.5 47.5,508.5 47,512.2 43,513.2" fill="#f2f2f2" filter="url(#b05)" />
<polygon points="45,519 49,516.5 48.5,521 45,522" fill="#e8e8e8" filter="url(#b05)" />
<polygon points="38,542.6 42.5,519 53.7,496.5 48.1,534.7" fill="#8a8a8a" filter="url(#b05)" />
<path d="M38,542.6 L42.5,519 L53.7,496.5" stroke="#d8d8d8" stroke-width="0.9" fill="none" filter="url(#b05)"/>
<polygon points="37.8,543 48.1,534.9 77.4,532.7 75.5,536.5 46,543.8" fill="#f4f4f4" filter="url(#b05)" />
<polygon points="53.7,496.5 85.2,471.7 124.0,467.6 119.6,486 118,491.5 77.4,532.5 48.1,534.7" fill="url(#gface)" filter="url(#b05)" />
<polygon points="77.4,511.1 120.1,492 119,491.5 77.4,532.5 48.1,534.7 50,523" fill="#b7b7b7" filter="url(#b1)" opacity="0.8"/>
<path d="M53.9,496.5 L85.3,472.3 L122.6,468.3" stroke="#f2f2f2" stroke-width="2.8" fill="none" stroke-linejoin="round" filter="url(#b05)"/>
<path d="M56.5,498.5 L86.4,475.4 L121.5,472.2" stroke="#cdcdcd" stroke-width="2" fill="none" stroke-linejoin="round" filter="url(#b1)" opacity="0.8"/>
<path d="M122.3,468.4 L119,490.9 L77.4,532.5" stroke="#d6d6d6" stroke-width="1.2" fill="none" filter="url(#b05)"/>
<path d="M75,512 L120,492" stroke="#e4e4e4" stroke-width="0.9" fill="none" filter="url(#b05)"/>
<polygon points="52.5,522 53.7,518.5 59.4,513.1 72.9,513.1 74.2,519 65,526.9 54.7,528.2" fill="#f4f4f4" filter="url(#b05)" />
<polygon points="57.1,516.9 70.6,515.6 68.2,520.1 59.2,522.4" fill="#b9b9b9" filter="url(#b05)" />
<polygon points="54,524.5 59,523.2 66,521.8 64.5,525.5 55.5,527.2" fill="#d6d6d6" filter="url(#b05)" />
</g>
<rect x="109.5" y="553.2" width="27.6" height="3.4" fill="#111"/>
<g clip-path="url(#ch)">
<rect x="152" y="438" width="106" height="128" fill="url(#semh)"/>
<ellipse cx="210.5" cy="499" rx="22" ry="40" fill="#2a2a2a" opacity="0.7" filter="url(#b6)"/>
<ellipse cx="210" cy="495" rx="20.5" ry="27" fill="#000" opacity="0.95" filter="url(#b3)"/>
<polygon points="194.3,497 195.0,521.5 196.4,527 198.5,528 202,536 205,541 211.9,548.2 212.8,539 204,532" fill="#f8f8f8" filter="url(#b05)" />
<polygon points="195.6,492 207.3,488.5 226,498 225.7,513.3 215.6,532.4 212.8,541.5 204.8,531.8 197.4,520.5 196.2,505" fill="#a2a2a2" filter="url(#b05)" />
<polygon points="205,531.8 212.8,541.2 215.4,532.4 219,525 207,527" fill="#aeaeae" filter="url(#b1)" />
<path d="M226,506 L225.7,513.3 L215.6,532.4 L212.6,546.5" stroke="#d4d4d4" stroke-width="0.9" fill="none" filter="url(#b05)"/>
<path d="M203,535.5 L211.5,546.8" stroke="#ffffff" stroke-width="2.2" fill="none" filter="url(#b05)"/>
<polygon points="207.3,451.3 192,470.3 190.8,499.3 195,497.8 201.7,495.6 207.3,491.0 211,494.2 215.2,498.0 221.9,500.2 226,504 229.3,507.6 227.2,471.5" fill="#fafafa" filter="url(#b05)" />
<polygon points="207.3,453 193.6,470.8 193.0,486 207.6,472.0" fill="#dedede" filter="url(#b05)" />
<polygon points="207.8,453 225.8,471.8 226.4,481.3 208.2,472.0" fill="#d4d4d4" filter="url(#b05)" />
<line x1="211.5" y1="458.2" x2="211.8" y2="474.2" stroke="#f4f4f4" stroke-width="0.8" filter="url(#b05)"/>
<line x1="215.3" y1="462" x2="215.6" y2="476.0" stroke="#f4f4f4" stroke-width="0.8" filter="url(#b05)"/>
<line x1="219.2" y1="466" x2="219.4" y2="477.8" stroke="#f4f4f4" stroke-width="0.8" filter="url(#b05)"/>
<line x1="222.6" y1="469.5" x2="222.8" y2="479.4" stroke="#f4f4f4" stroke-width="0.8" filter="url(#b05)"/>
<line x1="198" y1="466" x2="197.6" y2="481" stroke="#efefef" stroke-width="0.8" filter="url(#b05)"/>
<line x1="202" y1="461" x2="201.8" y2="477.5" stroke="#efefef" stroke-width="0.8" filter="url(#b05)"/>
<rect x="217.0" y="468.6" width="5.4" height="8.4" fill="#c6c6c6" filter="url(#b05)"/>
<path d="M192.8,487.2 L207.9,472.4 L227,482.3" stroke="#f4f4f4" stroke-width="1.2" fill="none" filter="url(#b05)"/>
<polygon points="193.4,488.4 207.6,474.2 207.2,490.4 201.7,494.6 193.0,497.4" fill="#c6c6c6" filter="url(#b05)" />
<polygon points="208.6,474.4 226.2,483.6 227.5,504.0 222,498.8 215.4,496.6 208.2,490.0" fill="#bcbcbc" filter="url(#b05)" />
</g>
<rect x="152.8" y="563.7" width="104" height="1.4" fill="#c2c2c2"/>
<rect x="219.8" y="554.2" width="28" height="3.6" fill="#111"/>
<text opacity="0.99" transform="translate(24.6,457.8) scale(1.06,1)" font-size="20" text-anchor="start" font-weight="bold" fill="#000" font-family='"Liberation Sans", sans-serif' >g</text>
<text opacity="0.99" transform="translate(158,457.1) scale(1.06,1)" font-size="20" text-anchor="start" font-weight="bold" fill="#000" font-family='"Liberation Sans", sans-serif' >h</text>
<text opacity="0.99" transform="translate(0.3,11.4) scale(0.96,1)" font-size="20" text-anchor="start" font-weight="bold" fill="#000" font-family='"Liberation Sans", sans-serif' >a</text>
<text opacity="0.99" transform="translate(2.2,225.0) scale(1.05,1)" font-size="19.5" text-anchor="start" font-weight="bold" fill="#000" font-family='"Liberation Sans", sans-serif' >b</text>
<text opacity="0.99" transform="translate(320.2,11.2) scale(1.04,1)" font-size="19" text-anchor="start" font-weight="bold" fill="#000" font-family='"Liberation Sans", sans-serif' >c</text>
</g>
</svg>
</body></html>
